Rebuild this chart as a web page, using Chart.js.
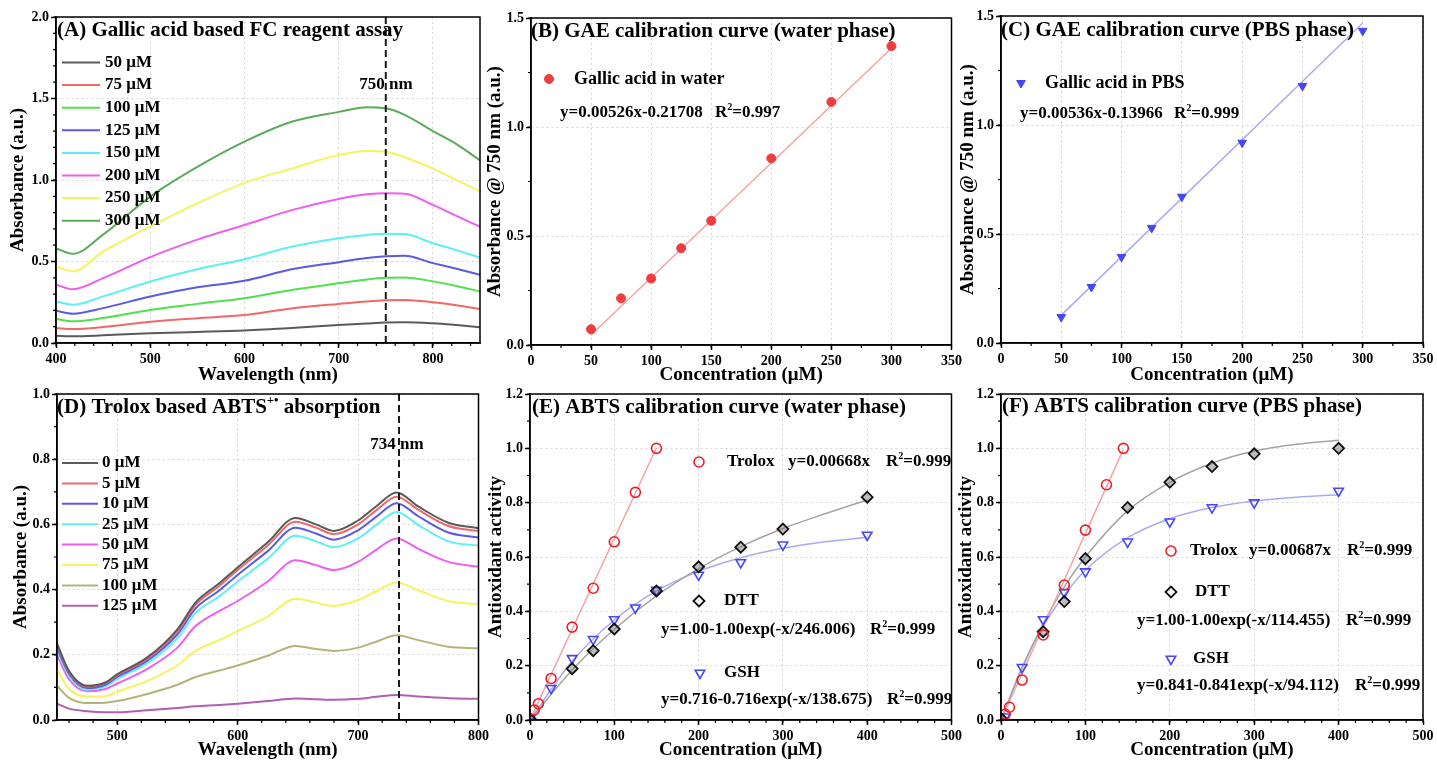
<!DOCTYPE html>
<html>
<head>
<meta charset="utf-8">
<title>FC and ABTS assays</title>
<script src="https://cdn.jsdelivr.net/npm/chart.js@4"></script>
<style>
  body { margin: 0; background: #fff; width: 1437px; height: 761px; overflow: hidden; position: relative; }
  .panel { position: absolute; }
</style>
</head>
<body>
<div class="panel" style="left:0px;top:0px;width:492px;height:390px"><canvas id="cA"></canvas></div>
<div class="panel" style="left:482px;top:0px;width:483px;height:390px"><canvas id="cB"></canvas></div>
<div class="panel" style="left:955px;top:0px;width:482px;height:390px"><canvas id="cC"></canvas></div>
<div class="panel" style="left:0px;top:375px;width:492px;height:386px"><canvas id="cD"></canvas></div>
<div class="panel" style="left:482px;top:375px;width:483px;height:386px"><canvas id="cE"></canvas></div>
<div class="panel" style="left:955px;top:375px;width:482px;height:386px"><canvas id="cF"></canvas></div>
<script>
// ---- (A) FC spectra, gallic acid ----
const wlA = [400, 418, 450, 500, 550, 600, 650, 700, 730, 750, 770, 800, 825, 850];
const labelsA = ['50 μM', '75 μM', '100 μM', '125 μM', '150 μM', '200 μM', '250 μM', '300 μM'];
const ga50  = [0.045, 0.041, 0.047, 0.060, 0.068, 0.077, 0.092, 0.110, 0.120, 0.126, 0.128, 0.121, 0.110, 0.097];
const ga75  = [0.092, 0.086, 0.098, 0.130, 0.152, 0.172, 0.212, 0.240, 0.255, 0.262, 0.264, 0.250, 0.232, 0.208];
const ga100 = [0.147, 0.133, 0.153, 0.203, 0.240, 0.275, 0.325, 0.366, 0.390, 0.400, 0.402, 0.378, 0.350, 0.316];
const ga125 = [0.198, 0.180, 0.214, 0.285, 0.342, 0.382, 0.452, 0.496, 0.522, 0.532, 0.535, 0.490, 0.455, 0.418];
const ga150 = [0.255, 0.235, 0.286, 0.377, 0.452, 0.514, 0.590, 0.643, 0.663, 0.670, 0.668, 0.612, 0.570, 0.524];
const ga200 = [0.357, 0.330, 0.398, 0.527, 0.634, 0.724, 0.815, 0.884, 0.912, 0.918, 0.916, 0.847, 0.780, 0.714];
const ga250 = [0.470, 0.440, 0.560, 0.714, 0.857, 0.982, 1.070, 1.153, 1.178, 1.173, 1.140, 1.070, 1.000, 0.930];
const ga300 = [0.580, 0.547, 0.665, 0.898, 1.080, 1.235, 1.357, 1.418, 1.447, 1.440, 1.400, 1.300, 1.220, 1.120];

// ---- (B) / (C) GAE calibration ----
const concGA = [50, 75, 100, 125, 150, 200, 250, 300];
const absWater = [0.072, 0.214, 0.305, 0.444, 0.570, 0.856, 1.115, 1.371];
const absPBS = [0.119, 0.257, 0.395, 0.528, 0.671, 0.919, 1.179, 1.432];
const fitX_GA = [50, 300];
const fitWater = [0.046, 1.361];
const fitPBS = [0.128, 1.468];

// ---- (D) ABTS spectra, trolox ----
const wlD = [450, 460, 475, 490, 500, 525, 550, 565, 585, 600, 625, 648, 665, 680, 700, 715, 732, 750, 775, 800];
const labelsD = ['0 μM', '5 μM', '10 μM', '25 μM', '50 μM', '75 μM', '100 μM', '125 μM'];
const tx0   = [0.235, 0.150, 0.105, 0.115, 0.140, 0.192, 0.278, 0.360, 0.420, 0.468, 0.545, 0.620, 0.600, 0.580, 0.612, 0.655, 0.698, 0.655, 0.605, 0.588];
const tx5   = [0.230, 0.147, 0.103, 0.113, 0.137, 0.188, 0.272, 0.353, 0.412, 0.460, 0.535, 0.608, 0.590, 0.570, 0.600, 0.643, 0.685, 0.645, 0.595, 0.580];
const tx10  = [0.222, 0.142, 0.098, 0.108, 0.132, 0.182, 0.263, 0.342, 0.398, 0.445, 0.518, 0.590, 0.572, 0.553, 0.582, 0.623, 0.665, 0.625, 0.575, 0.560];
const tx25  = [0.212, 0.135, 0.093, 0.103, 0.126, 0.174, 0.251, 0.328, 0.380, 0.425, 0.495, 0.565, 0.548, 0.530, 0.557, 0.598, 0.638, 0.598, 0.548, 0.535];
const tx50  = [0.200, 0.125, 0.088, 0.095, 0.112, 0.157, 0.222, 0.288, 0.335, 0.365, 0.425, 0.490, 0.475, 0.460, 0.485, 0.522, 0.557, 0.525, 0.485, 0.470];
const tx75  = [0.155, 0.095, 0.072, 0.073, 0.087, 0.120, 0.168, 0.212, 0.245, 0.272, 0.318, 0.372, 0.360, 0.350, 0.368, 0.395, 0.422, 0.398, 0.365, 0.355];
const tx100 = [0.105, 0.068, 0.052, 0.053, 0.058, 0.080, 0.108, 0.132, 0.152, 0.167, 0.197, 0.227, 0.218, 0.212, 0.222, 0.240, 0.260, 0.245, 0.225, 0.220];
const tx125 = [0.050, 0.035, 0.027, 0.024, 0.024, 0.030, 0.037, 0.042, 0.046, 0.050, 0.058, 0.066, 0.064, 0.062, 0.065, 0.071, 0.077, 0.072, 0.067, 0.065];

// ---- (E) ABTS calibration, water ----
const trxE = [5, 10, 25, 50, 75, 100, 125, 150];
const trolE = [0.037, 0.060, 0.153, 0.342, 0.485, 0.656, 0.838, 1.000];
const trolFitX_E = [0, 150];
const trolFitE = [0, 1.002];
const dttxE = [0, 50, 75, 100, 150, 200, 250, 300, 400];
const dttE = [0.005, 0.189, 0.255, 0.335, 0.475, 0.564, 0.636, 0.703, 0.820];
const gshxE = [0, 25, 50, 75, 100, 125, 150, 200, 250, 300, 400];
const gshE = [0.005, 0.117, 0.227, 0.297, 0.370, 0.413, 0.478, 0.534, 0.580, 0.645, 0.681];
const fitXE = [0, 50, 100, 150, 200, 250, 300, 350, 400];
const dttFitE = [0, 0.184, 0.334, 0.457, 0.557, 0.638, 0.705, 0.759, 0.810];
const gshFitE = [0, 0.216, 0.368, 0.475, 0.547, 0.597, 0.632, 0.656, 0.673];

// ---- (F) ABTS calibration, PBS ----
const trxF = [5, 10, 25, 50, 75, 100, 125, 145];
const trolF = [0.021, 0.047, 0.147, 0.313, 0.497, 0.699, 0.866, 1.000];
const trolFitX_F = [0, 145];
const trolFitF = [0, 0.996];
const dttxF = [0, 50, 75, 100, 150, 200, 250, 300, 400];
const dttF = [0.006, 0.325, 0.436, 0.594, 0.782, 0.875, 0.933, 0.980, 1.000];
const gshxF = [5, 25, 50, 75, 100, 150, 200, 250, 300, 400];
const gshF = [0.012, 0.194, 0.370, 0.470, 0.546, 0.656, 0.730, 0.782, 0.800, 0.843];
const fitXF = [0, 25, 50, 75, 100, 150, 200, 250, 300, 350, 400];
const dttFitF = [0, 0.190, 0.355, 0.490, 0.600, 0.770, 0.875, 0.945, 0.990, 1.015, 1.030];
const gshFitF = [0, 0.196, 0.346, 0.460, 0.551, 0.671, 0.741, 0.782, 0.806, 0.820, 0.829];

const FAM = "'Liberation Serif', 'Times New Roman', serif";
Chart.defaults.font.family = FAM;
Chart.defaults.color = '#000';
Chart.defaults.animation = false;

const ink = '#000';
const colsA = ['#5a5a5a', '#f06868', '#4ee04e', '#5a5ae6', '#5cf0f0', '#f05ef0', '#f4f45e', '#5caa5c'];
const colsD = ['#5a5a5a', '#f06868', '#5a5ae6', '#5cf0f0', '#f05ef0', '#f4f45e', '#b4b478', '#b060b0'];

const pts = (xs, ys) => xs.map((x, i) => ({ x: x, y: ys[i] }));

function axis(o) {
  const isX = o.pos === 'x';
  return {
    type: 'linear', min: o.min, max: o.max,
    afterFit: s => { if (isX) s.height = o.size; else s.width = o.size; },
    ticks: {
      stepSize: o.step, includeBounds: o.bounds !== false, autoSkip: false, maxRotation: 0,
      color: ink, font: { size: 14, weight: 'bold' }, padding: isX ? 3 : 2,
      callback: o.fmt || (v => v)
    },
    grid: { color: '#d6d6d6', lineWidth: 1, tickColor: ink, tickLength: 5, tickWidth: 1.5 },
    border: { color: ink, width: 1.5, dash: [2, 3] },
    title: {
      display: true, text: o.title, color: ink, font: { size: 19, weight: 'bold' },
      padding: isX ? { top: 0, bottom: o.tpad } : { top: o.tpad, bottom: 0 }
    }
  };
}

function drawText(ctx, n, ox, oy) {
  const size = n.size || 17;
  const parts = n.parts || [{ t: n.text }];
  ctx.fillStyle = ink;
  ctx.textBaseline = 'middle';
  ctx.textAlign = 'left';
  let x = n.x - ox;
  const y = n.y - oy;
  if (n.align === 'center') {
    let w = 0;
    parts.forEach(p => { ctx.font = 'bold ' + (p.sup ? size * 0.6 : size) + 'px ' + FAM; w += ctx.measureText(p.t).width; });
    x -= w / 2;
  }
  parts.forEach(p => {
    const s = p.sup ? size * 0.6 : size;
    ctx.font = 'bold ' + s + 'px ' + FAM;
    ctx.fillText(p.t, x, p.sup ? y - size * 0.33 : y);
    x += ctx.measureText(p.t).width;
  });
}

// frame, minor ticks, marker line and in-plot text
function decor(cfg) {
  return {
    id: 'decor',
    afterDraw(chart) {
      const { ctx, chartArea: a, scales } = chart;
      ctx.save();
      if (cfg.vline != null) {
        const x = scales.x.getPixelForValue(cfg.vline);
        ctx.setLineDash([7, 4]);
        ctx.lineWidth = 2;
        ctx.strokeStyle = '#1a1a1a';
        ctx.beginPath(); ctx.moveTo(x, a.top); ctx.lineTo(x, a.bottom); ctx.stroke();
        ctx.setLineDash([]);
      }
      ctx.lineWidth = 1.5;
      ctx.strokeStyle = ink;
      ctx.strokeRect(a.left, a.top, a.right - a.left, a.bottom - a.top);
      ctx.lineWidth = 1.2;
      ['x', 'y'].forEach(k => {
        const sc = scales[k], st = cfg.minor[k];
        const first = Math.ceil(sc.min / st - 1e-9);
        const last = Math.floor(sc.max / st + 1e-9);
        ctx.beginPath();
        for (let i = first; i <= last; i++) {
          const p = sc.getPixelForValue(i * st);
          if (k === 'x') { ctx.moveTo(p, a.bottom); ctx.lineTo(p, a.bottom + 3); }
          else { ctx.moveTo(a.left, p); ctx.lineTo(a.left - 3, p); }
        }
        ctx.stroke();
      });
      (cfg.notes || []).forEach(n => {
        if (n.line) {
          ctx.strokeStyle = n.color; ctx.lineWidth = n.width || 2;
          ctx.beginPath(); ctx.moveTo(n.line[0] - cfg.ox, n.line[1] - cfg.oy); ctx.lineTo(n.line[2] - cfg.ox, n.line[3] - cfg.oy); ctx.stroke();
        } else if (n.marker) {
          ctx.fillStyle = n.fill; ctx.strokeStyle = n.stroke;
          ctx.lineWidth = n.bw;
          Chart.helpers.drawPoint(ctx, { pointStyle: n.marker, radius: n.r, rotation: n.rot || 0, borderWidth: n.bw }, n.x - cfg.ox, n.y - cfg.oy);
        } else {
          drawText(ctx, n, cfg.ox, cfg.oy);
        }
      });
      ctx.restore();
    }
  };
}

function panel(id, p) {
  return new Chart(document.getElementById(id), {
    type: 'scatter',
    data: { datasets: p.datasets },
    options: {
      responsive: true, maintainAspectRatio: false, devicePixelRatio: 1,
      layout: { padding: { top: p.top, right: p.right, left: 0, bottom: 0 } },
      plugins: { legend: { display: false }, tooltip: { enabled: false } },
      scales: { x: axis(p.x), y: axis(p.y) }
    },
    plugins: [decor(p)]
  });
}

const line = (xs, ys, color, w) => ({ data: pts(xs, ys), showLine: true, borderColor: color, borderWidth: w || 2, pointRadius: 0, cubicInterpolationMode: 'monotone' });
const fmt1 = v => v.toFixed(1);
const R2 = (x, y, val) => ({ x: x, y: y, size: 17, parts: [{ t: 'R' }, { t: '2', sup: true }, { t: '=' + val }] });

function legendNotes(labels, cols, y0, dy, x1, x2, tx) {
  const out = [];
  labels.forEach((l, i) => {
    const y = y0 + i * dy;
    out.push({ line: [x1, y, x2, y], color: cols[i], width: 2 });
    out.push({ x: tx, y: y, text: l, size: 17 });
  });
  return out;
}

// (A)
panel('cA', {
  ox: 0, oy: 0, top: 17, right: 12, vline: 750, minor: { x: 20, y: 0.1 },
  x: { pos: 'x', min: 400, max: 850, step: 100, bounds: false, size: 47, tpad: 4, title: 'Wavelength (nm)' },
  y: { pos: 'y', min: 0, max: 2, step: 0.5, size: 56, tpad: 7, fmt: fmt1, title: 'Absorbance (a.u.)' },
  datasets: [ga50, ga75, ga100, ga125, ga150, ga200, ga250, ga300].map((s, i) => line(wlA, s, colsA[i], 2)),
  notes: [{ x: 57, y: 31, text: '(A) Gallic acid based FC reagent assay', size: 21 },
          { x: 386, y: 85, text: '750 nm', size: 17, align: 'center' }]
    .concat(legendNotes(labelsA, colsA, 62.5, 22.6, 62, 100, 105))
});

// (B)
panel('cB', {
  ox: 482, oy: 0, top: 18, right: 12, minor: { x: 25, y: 0.25 },
  x: { pos: 'x', min: 0, max: 350, step: 50, size: 45, tpad: 4, title: 'Concentration (μM)' },
  y: { pos: 'y', min: 0, max: 1.5, step: 0.5, size: 49, tpad: 2, fmt: fmt1, title: 'Absorbance @ 750 nm (a.u.)' },
  datasets: [
    { data: pts(concGA, absWater), pointStyle: 'circle', pointRadius: 4.5, backgroundColor: '#f03c3c', borderColor: '#f03c3c', borderWidth: 1 },
    line(fitX_GA, fitWater, '#f5a3a3', 1.5)
  ],
  notes: [{ x: 531, y: 32, text: '(B) GAE calibration curve (water phase)', size: 21 },
          { marker: 'circle', x: 549, y: 79, r: 4.5, fill: '#f03c3c', stroke: '#f03c3c', bw: 1 },
          { x: 574, y: 79, text: 'Gallic acid in water', size: 18 },
          { x: 560, y: 113, text: 'y=0.00526x-0.21708', size: 17 },
          R2(715, 113, '0.997')]
});

// (C)
panel('cC', {
  ox: 955, oy: 0, top: 16, right: 14, minor: { x: 25, y: 0.25 },
  x: { pos: 'x', min: 0, max: 350, step: 50, size: 47, tpad: 4, title: 'Concentration (μM)' },
  y: { pos: 'y', min: 0, max: 1.5, step: 0.5, size: 46, tpad: 2, fmt: fmt1, title: 'Absorbance @ 750 nm (a.u.)' },
  datasets: [
    { data: pts(concGA, absPBS), pointStyle: 'triangle', rotation: 180, pointRadius: 5, backgroundColor: '#4646f0', borderColor: '#4646f0', borderWidth: 1 },
    line(fitX_GA, fitPBS, '#aaaaf4', 1.5)
  ],
  notes: [{ x: 1001, y: 31, text: '(C) GAE calibration curve (PBS phase)', size: 21 },
          { marker: 'triangle', rot: 180, x: 1021, y: 83, r: 5, fill: '#4646f0', stroke: '#4646f0', bw: 1 },
          { x: 1045, y: 83, text: 'Gallic acid in PBS', size: 18 },
          { x: 1020, y: 114, text: 'y=0.00536x-0.13966', size: 17 },
          R2(1174, 114, '0.999')]
});

// (D)
panel('cD', {
  ox: 0, oy: 375, top: 19, right: 12, vline: 734, minor: { x: 20, y: 0.1 },
  x: { pos: 'x', min: 450, max: 800, step: 100, bounds: false, size: 41, tpad: 0, title: 'Wavelength (nm)' },
  y: { pos: 'y', min: 0, max: 1, step: 0.2, size: 57, tpad: 10, fmt: fmt1, title: 'Absorbance (a.u.)' },
  datasets: [tx0, tx5, tx10, tx25, tx50, tx75, tx100, tx125].map((s, i) => line(wlD, s, colsD[i], 2)),
  notes: [{ x: 57, y: 408, size: 21, parts: [{ t: '(D) Trolox based ABTS' }, { t: '+•', sup: true }, { t: ' absorption' }] },
          { x: 397, y: 445, text: '734 nm', size: 17, align: 'center' }]
    .concat(legendNotes(labelsD, colsD, 463, 20.4, 62, 98, 102))
});

const openRed = { pointStyle: 'circle', pointRadius: 5, backgroundColor: 'rgba(0,0,0,0)', borderColor: '#e8202a', borderWidth: 1.6 };
const diamond = { pointStyle: 'rectRot', pointRadius: 5.5, backgroundColor: 'rgba(110,110,110,0.45)', borderColor: '#111', borderWidth: 1.8 };
const downTri = { pointStyle: 'triangle', rotation: 180, pointRadius: 5.5, backgroundColor: 'rgba(0,0,0,0)', borderColor: '#4848f4', borderWidth: 1.6 };

// (E)
panel('cE', {
  ox: 482, oy: 375, top: 19, right: 12, minor: { x: 20, y: 0.1 },
  x: { pos: 'x', min: 0, max: 500, step: 100, size: 41, tpad: 0, title: 'Concentration (μM)' },
  y: { pos: 'y', min: 0, max: 1.2, step: 0.2, size: 48, tpad: 3, fmt: fmt1, title: 'Antioxidant activity' },
  datasets: [
    Object.assign({ data: pts(trxE, trolE) }, openRed),
    Object.assign({ data: pts(dttxE, dttE) }, diamond),
    Object.assign({ data: pts(gshxE, gshE) }, downTri),
    line(trolFitX_E, trolFitE, '#f5a3a3', 1.5),
    line(fitXE, dttFitE, '#a4a4a4', 1.5),
    line(fitXE, gshFitE, '#aaaaf4', 1.5)
  ],
  notes: [{ x: 532, y: 408, text: '(E) ABTS calibration curve (water phase)', size: 21 },
          { marker: 'circle', x: 699, y: 462, r: 5, fill: 'rgba(0,0,0,0)', stroke: '#e8202a', bw: 1.6 },
          { x: 727, y: 462, text: 'Trolox', size: 17 },
          { x: 788, y: 462, text: 'y=0.00668x', size: 17 },
          R2(886, 462, '0.999'),
          { marker: 'rectRot', x: 699, y: 601, r: 5.5, fill: 'rgba(0,0,0,0)', stroke: '#111', bw: 1.8 },
          { x: 724, y: 601, text: 'DTT', size: 17 },
          { x: 661, y: 630, text: 'y=1.00-1.00exp(-x/246.006)', size: 17 },
          R2(870, 630, '0.999'),
          { marker: 'triangle', rot: 180, x: 700, y: 673, r: 5.5, fill: 'rgba(0,0,0,0)', stroke: '#4848f4', bw: 1.6 },
          { x: 724, y: 673, text: 'GSH', size: 17 },
          { x: 661, y: 700, text: 'y=0.716-0.716exp(-x/138.675)', size: 17 },
          R2(887, 700, '0.999')]
});

// (F)
panel('cF', {
  ox: 955, oy: 375, top: 19, right: 14, minor: { x: 20, y: 0.1 },
  x: { pos: 'x', min: 0, max: 500, step: 100, size: 41, tpad: 0, title: 'Concentration (μM)' },
  y: { pos: 'y', min: 0, max: 1.2, step: 0.2, size: 46, tpad: 0, fmt: fmt1, title: 'Antioxidant activity' },
  datasets: [
    Object.assign({ data: pts(trxF, trolF) }, openRed),
    Object.assign({ data: pts(dttxF, dttF) }, diamond),
    Object.assign({ data: pts(gshxF, gshF) }, downTri),
    line(trolFitX_F, trolFitF, '#f5a3a3', 1.5),
    line(fitXF, dttFitF, '#a4a4a4', 1.5),
    line(fitXF, gshFitF, '#aaaaf4', 1.5)
  ],
  notes: [{ x: 1002, y: 407, text: '(F) ABTS calibration curve (PBS phase)', size: 21 },
          { marker: 'circle', x: 1171, y: 551, r: 5, fill: 'rgba(0,0,0,0)', stroke: '#e8202a', bw: 1.6 },
          { x: 1190, y: 551, text: 'Trolox', size: 17 },
          { x: 1249, y: 551, text: 'y=0.00687x', size: 17 },
          R2(1347, 551, '0.999'),
          { marker: 'rectRot', x: 1171, y: 592, r: 5.5, fill: 'rgba(0,0,0,0)', stroke: '#111', bw: 1.8 },
          { x: 1195, y: 592, text: 'DTT', size: 17 },
          { x: 1137, y: 621, text: 'y=1.00-1.00exp(-x/114.455)', size: 17 },
          R2(1346, 621, '0.999'),
          { marker: 'triangle', rot: 180, x: 1171, y: 659, r: 5.5, fill: 'rgba(0,0,0,0)', stroke: '#4848f4', bw: 1.6 },
          { x: 1193, y: 659, text: 'GSH', size: 17 },
          { x: 1137, y: 686, text: 'y=0.841-0.841exp(-x/94.112)', size: 17 },
          R2(1355, 686, '0.999')]
});
</script>
</body>
</html>
